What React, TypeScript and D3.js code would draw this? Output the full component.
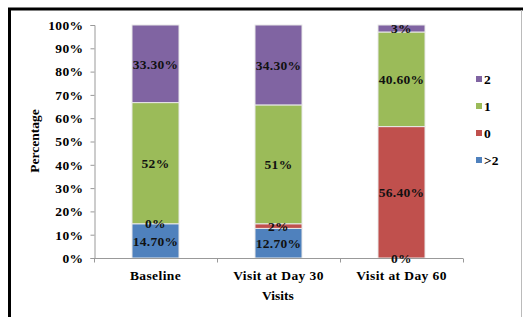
import { useEffect, useRef } from 'react';
import * as d3 from 'd3';

const visits = ['Baseline', 'Visit at Day 30', 'Visit at Day 60'];
// stacked bottom to top
const seriesKeys = ['>2', '0', '1', '2'];
const seriesColors = ['#4F81BD', '#C0504D', '#9BBB59', '#8064A2'];
const valuesGt2 = [14.7, 12.7, 0];
const values0 = [0, 2, 56.4];
const values1 = [52, 51, 40.6];
const values2 = [33.3, 34.3, 3];
const valueLabels = [
  ['14.70%', '12.70%', '0%'],
  ['0%', '2%', '56.40%'],
  ['52%', '51%', '40.60%'],
  ['33.30%', '34.30%', '3%'],
];
const yTicks = [0, 10, 20, 30, 40, 50, 60, 70, 80, 90, 100];
const legendOrder = ['2', '1', '0', '>2'];

const FONT = '"Liberation Serif", "Times New Roman", serif';

export default function App() {
  const svgRef = useRef<SVGSVGElement>(null);

  useEffect(() => {
    if (!svgRef.current) return;
    const svg = d3.select(svgRef.current);
    svg.selectAll('*').remove();

    const W = 523;
    const H = 317;

    // frame
    svg.append('rect').attr('width', W).attr('height', H).attr('fill', '#fff');
    svg.append('line').attr('x1', 8).attr('x2', W).attr('y1', 9).attr('y2', 9)
      .attr('stroke', '#000').attr('stroke-width', 3);
    svg.append('line').attr('x1', 9.5).attr('x2', 9.5).attr('y1', 8).attr('y2', H)
      .attr('stroke', '#000').attr('stroke-width', 3);
    svg.append('line').attr('x1', 521.5).attr('x2', 521.5).attr('y1', 10).attr('y2', H)
      .attr('stroke', '#bbb').attr('stroke-width', 1);

    const x = d3.scaleBand<string>().domain(visits).range([94, 463])
      .paddingInner(0.618).paddingOuter(0.309);
    const y = d3.scaleLinear().domain([0, 100]).range([258, 25]);

    const rows = visits.map((v, i) => ({
      visit: v,
      '>2': valuesGt2[i],
      '0': values0[i],
      '1': values1[i],
      '2': values2[i],
    }));
    const stack = d3.stack<any>().keys(seriesKeys)(rows);

    // y axis
    const yAxis = svg.append('g').attr('transform', 'translate(94.5,0)')
      .call(d3.axisLeft(y).tickValues(yTicks).tickSize(4).tickFormat((d) => `${d}%`));
    yAxis.select('.domain').attr('stroke', '#999');
    yAxis.selectAll('.tick line').attr('stroke', '#999');
    yAxis.selectAll('.tick text').attr('font-family', FONT).attr('font-size', 13.5)
      .attr('font-weight', 'bold').attr('fill', '#000').attr('x', -11)
      .attr('letter-spacing', 0.4);

    // bars
    stack.forEach((s, si) => {
      svg.append('g').selectAll('rect').data(s).join('rect')
        .attr('x', (d: any) => x(d.data.visit)!)
        .attr('width', x.bandwidth())
        .attr('y', (d: any) => y(d[1]))
        .attr('height', (d: any) => y(d[0]) - y(d[1]))
        .attr('fill', seriesColors[si])
        .attr('stroke', '#e8e8e8')
        .attr('stroke-width', 1);
    });

    // x axis
    const xAxisLine = svg.append('g').attr('transform', 'translate(0,258.5)');
    xAxisLine.append('line').attr('x1', 94).attr('x2', 463).attr('stroke', '#999');
    [94, 217, 340, 463].forEach((tx) => {
      xAxisLine.append('line').attr('x1', tx + 0.5).attr('x2', tx + 0.5).attr('y1', 0).attr('y2', 4)
        .attr('stroke', '#999');
    });
    svg.append('g').selectAll('text').data(visits).join('text')
      .attr('x', (d) => x(d)! + x.bandwidth() / 2)
      .attr('y', 280)
      .attr('text-anchor', 'middle')
      .attr('font-family', FONT).attr('font-size', 13.5).attr('font-weight', 'bold')
      .attr('letter-spacing', 0.4)
      .text((d) => d);

    // value labels
    stack.forEach((s, si) => {
      svg.append('g').selectAll('text').data(s).join('text')
        .attr('x', (d: any) => x(d.data.visit)! + x.bandwidth() / 2)
        .attr('y', (d: any) => (y(d[0]) + y(d[1])) / 2)
        .attr('dy', '0.35em')
        .attr('text-anchor', 'middle')
        .attr('font-family', FONT).attr('font-size', 13.5).attr('font-weight', 'bold')
        .attr('letter-spacing', 0.3)
        .attr('fill', '#111')
        .text((_d: any, i: number) => valueLabels[si][i]);
    });

    // axis titles
    svg.append('text').attr('x', 278).attr('y', 300).attr('text-anchor', 'middle')
      .attr('font-family', FONT).attr('font-size', 13.5).attr('font-weight', 'bold').text('Visits');
    svg.append('text').attr('transform', 'translate(39,141) rotate(-90)').attr('text-anchor', 'middle')
      .attr('font-family', FONT).attr('font-size', 13.5).attr('font-weight', 'bold').text('Percentage');

    // legend
    const leg = svg.append('g').selectAll('g').data(legendOrder).join('g')
      .attr('transform', (_d, i) => `translate(476,${79 + i * 27})`);
    leg.append('rect').attr('x', 0).attr('y', -3).attr('width', 6).attr('height', 6)
      .attr('fill', (d) => seriesColors[seriesKeys.indexOf(d)]);
    leg.append('text').attr('x', 8).attr('y', 0).attr('dy', '0.35em')
      .attr('font-family', FONT).attr('font-size', 13.5).attr('font-weight', 'bold').text((d) => d);
  }, []);

  return (
    <svg ref={svgRef} width={523} height={317}
      style={{ position: 'absolute', left: 0, top: 0, display: 'block' }} />
  );
}
